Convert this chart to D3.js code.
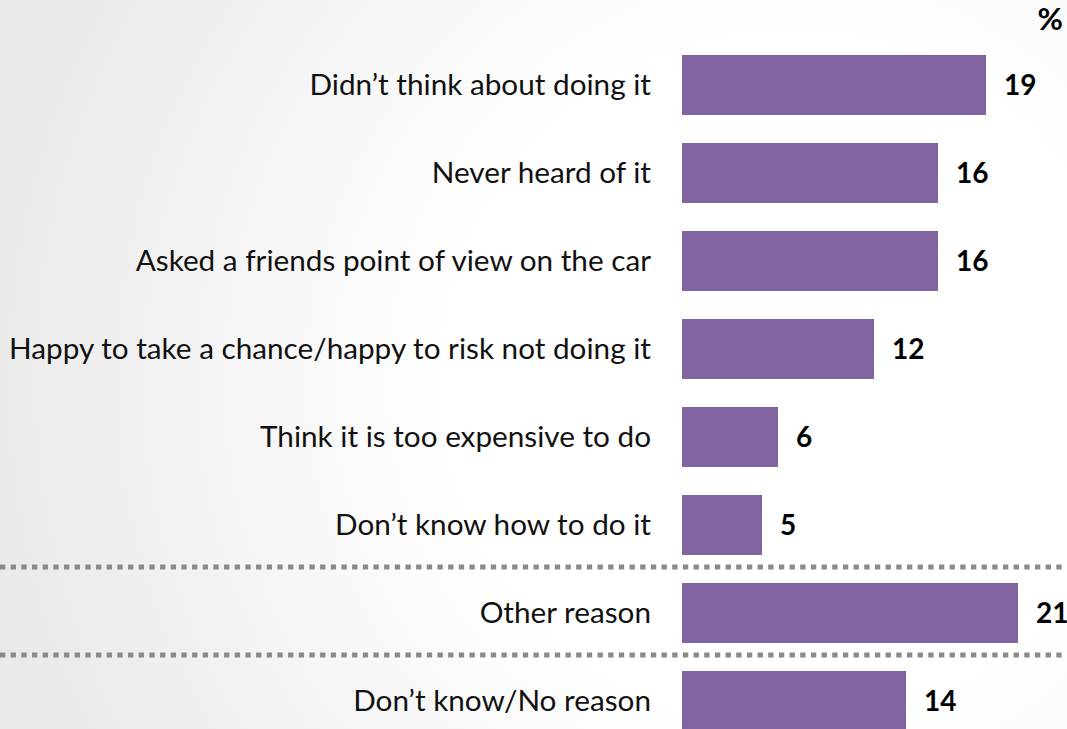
<!DOCTYPE html>
<html>
<head>
<meta charset="utf-8">
<script src="https://cdn.jsdelivr.net/npm/d3@7/dist/d3.min.js"></script>
<style>
  html, body { margin: 0; padding: 0; background: #fff; }
  svg { display: block; }
</style>
</head>
<body>
<svg id="chart" width="1067" height="729"></svg>
<script>
// Reasons given, with the share of respondents (%)
const categories = [
  "Didn\u2019t think about doing it",
  "Never heard of it",
  "Asked a friends point of view on the car",
  "Happy to take a chance/happy to risk not doing it",
  "Think it is too expensive to do",
  "Don\u2019t know how to do it",
  "Other reason",
  "Don\u2019t know/No reason"
];
const values = [19, 16, 16, 12, 6, 5, 21, 14];
// Dotted separators are drawn below these categories
const separatorsAfter = ["Don\u2019t know how to do it", "Other reason"];
const unitLabel = "%";

const W = 1067, H = 729;
const svg = d3.select("#chart");

// Soft grey-to-white background
const defs = svg.append("defs");
const bg = defs.append("radialGradient")
  .attr("id", "bg").attr("gradientUnits", "userSpaceOnUse")
  .attr("cx", 790).attr("cy", 380).attr("r", 820);
bg.append("stop").attr("offset", 0.42).attr("stop-color", "#ffffff");
bg.append("stop").attr("offset", 1).attr("stop-color", "#e9e9e9");
svg.append("rect").attr("width", W).attr("height", H).attr("fill", "url(#bg)");

const barColor = "#8064a2";
const fontFamily = "Lato, 'Open Sans', sans-serif";

const y = d3.scaleBand()
  .domain(categories)
  .range([41, 41 + 88 * categories.length])
  .paddingInner(0.318)
  .paddingOuter(0.159);

const x = d3.scaleLinear().domain([0, 21]).range([682, 1018]);

const data = categories.map((c, i) => ({ cat: c, val: values[i] }));

// Separators
svg.selectAll("line.sep")
  .data(separatorsAfter)
  .join("line")
  .attr("class", "sep")
  .attr("x1", 0).attr("x2", W)
  .attr("y1", d => {
    const i = categories.indexOf(d);
    const bottom = y(d) + y.bandwidth();
    const nextTop = y(categories[i + 1]);
    return (bottom + nextTop) / 2 - 2;
  })
  .attr("y2", function() { return d3.select(this).attr("y1"); })
  .attr("stroke", "#8a8a8a")
  .attr("stroke-width", 5)
  .attr("stroke-dasharray", "5.3 5.37");

// Bars
svg.selectAll("rect.bar")
  .data(data)
  .join("rect")
  .attr("class", "bar")
  .attr("x", x(0))
  .attr("y", d => y(d.cat))
  .attr("width", d => x(d.val) - x(0))
  .attr("height", y.bandwidth())
  .attr("fill", barColor);

// Category labels, sized so the longest one spans its measured width
const labels = svg.selectAll("text.cat")
  .data(data)
  .join("text")
  .attr("class", "cat")
  .attr("x", 651)
  .attr("y", d => y(d.cat) + y.bandwidth() / 2 + 9.5)
  .attr("text-anchor", "end")
  .attr("font-family", fontFamily)
  .attr("font-size", 26)
  .attr("fill", "#111")
  .text(d => d.cat);

let maxW = 0;
labels.each(function() { maxW = Math.max(maxW, this.getComputedTextLength()); });
const fs = 26 * 642 / maxW;
labels.attr("font-size", fs.toFixed(2));

// Value labels
svg.selectAll("text.val")
  .data(data)
  .join("text")
  .attr("class", "val")
  .attr("x", d => x(d.val) + 18)
  .attr("y", d => y(d.cat) + y.bandwidth() / 2 + 10)
  .attr("font-family", fontFamily)
  .attr("font-weight", "bold")
  .attr("font-size", 28)
  .attr("fill", "#000")
  .text(d => d.val);

svg.append("text")
  .attr("x", 1063).attr("y", 30)
  .attr("text-anchor", "end")
  .attr("font-family", fontFamily)
  .attr("font-weight", "bold")
  .attr("font-size", 31)
  .attr("fill", "#000")
  .text(unitLabel);
</script>
</body>
</html>
